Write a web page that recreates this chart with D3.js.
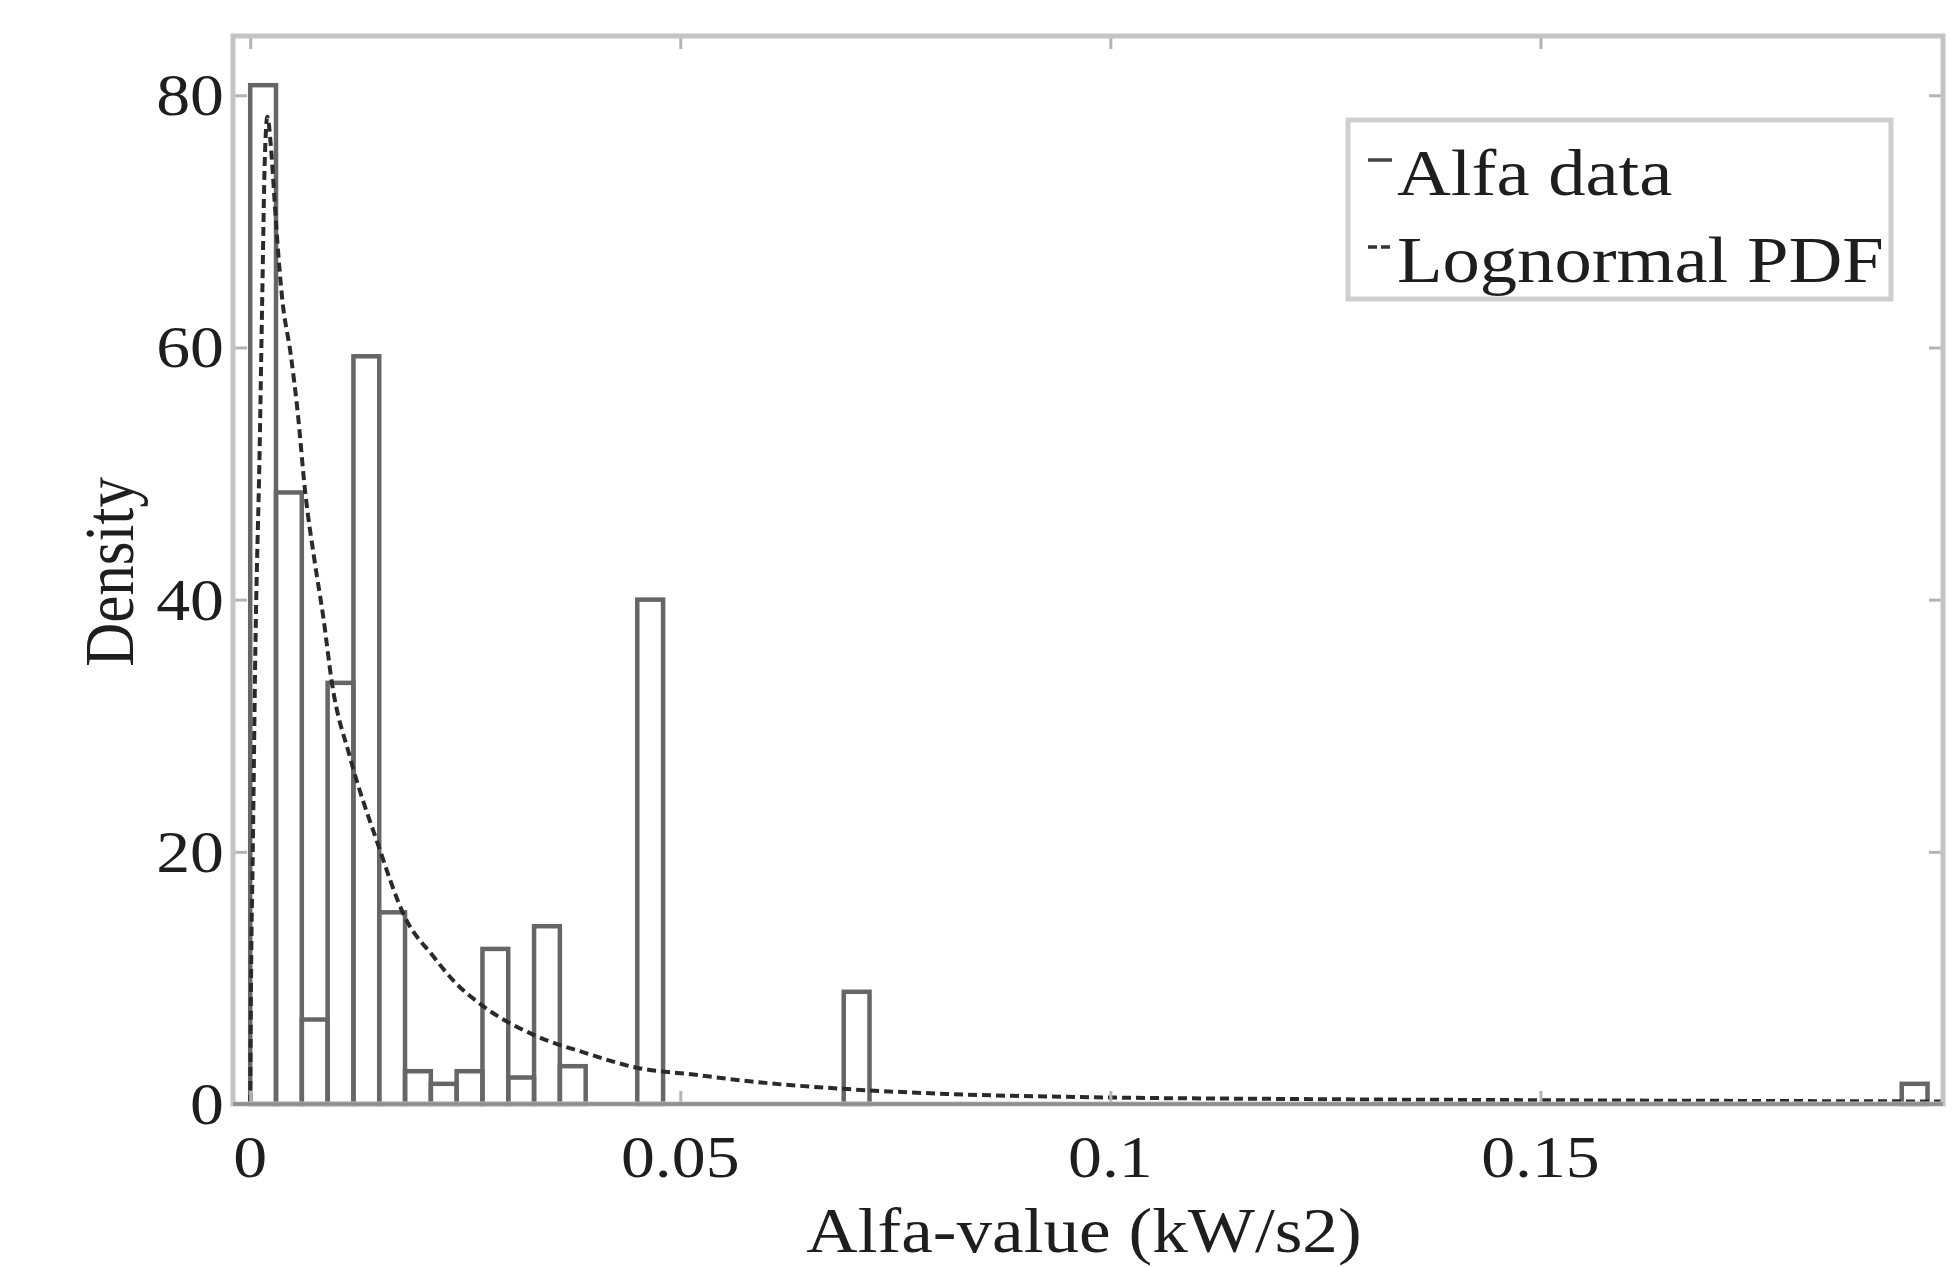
<!DOCTYPE html>
<html>
<head>
<meta charset="utf-8">
<script src="https://cdnjs.cloudflare.com/ajax/libs/d3/7.8.5/d3.min.js"></script>
<style>
  body { margin: 0; background: #fff; }
  text { font-family: "Liberation Serif", "Times New Roman", serif; fill: #1e1e1e; }
</style>
</head>
<body>
<div id="chart"></div>
<script>
// histogram of alfa-values, bins of 0.003 starting at 0
var binWidth = 0.003;
var density = [80.8, 48.5, 6.7, 33.4, 59.3, 15.2, 2.6, 1.6, 2.6, 12.3, 2.1, 14.1, 3.0, 0, 0,
    40.0, 0, 0, 0, 0, 0, 0, 0, 8.9,
    0, 0, 0, 0, 0, 0, 0, 0, 0, 0, 0, 0, 0, 0, 0, 0, 0, 0, 0, 0,
    0, 0, 0, 0, 0, 0, 0, 0, 0, 0, 0, 0, 0, 0, 0, 0, 0, 0, 0, 0,
    1.6];

// fitted lognormal pdf
var pdfX = [0, 0.0001, 0.0003, 0.0006, 0.0011, 0.0014, 0.0017, 0.0020, 0.0024, 0.0028, 0.0032,
    0.0037, 0.0047, 0.0055, 0.0064, 0.0075, 0.0085, 0.0095, 0.0116, 0.0148, 0.018, 0.0213,
    0.0236, 0.027, 0.0329, 0.0392, 0.0448, 0.052, 0.058, 0.069, 0.081, 0.0965, 0.12, 0.15, 0.1968];
var pdfY = [0, 10, 20, 36, 52, 64, 75, 78.3, 76, 72, 68,
    64, 59.5, 55, 48.5, 43, 38.6, 33.4, 27.5, 20.7, 14.8, 11.7,
    9.8, 7.8, 5.5, 4.0, 2.9, 2.3, 1.8, 1.2, 0.8, 0.55, 0.4, 0.3, 0.2];

var xTicks = [0, 0.05, 0.1, 0.15];
var xTickLabels = ["0", "0.05", "0.1", "0.15"];
var yTicks = [0, 20, 40, 60, 80];
var legendLabels = ["Alfa data", "Lognormal PDF"];

function drawChart() {
    var W = 1953, H = 1267;
    var mLeft = 233, mRight = 1943, mTop = 36, mBottom = 1104;
    var stretch = 1.13; // the source figure is widened a bit

    var svg = d3.select("#chart").append("svg")
        .attr("width", W)
        .attr("height", H);

    var x = d3.scaleLinear().domain([-0.002, 0.1968]).range([mLeft, mRight]);
    var y = d3.scaleLinear().domain([0, 84.7]).range([mBottom, mTop]);

    // bars
    svg.append("g").selectAll("rect")
        .data(density)
        .join("rect")
        .attr("x", (d, i) => x(i * binWidth))
        .attr("width", (d, i) => x((i + 1) * binWidth) - x(i * binWidth))
        .attr("y", d => y(d))
        .attr("height", d => y(0) - y(d))
        .attr("fill", "none")
        .attr("stroke", "#666")
        .attr("stroke-width", 4.5);

    // lognormal pdf
    var line = d3.line()
        .x(d => x(d[0]))
        .y(d => y(d[1]))
        .curve(d3.curveMonotoneX);

    svg.append("path")
        .datum(d3.zip(pdfX, pdfY))
        .attr("d", line)
        .attr("fill", "none")
        .attr("stroke", "#2a2a2a")
        .attr("stroke-width", 4)
        .attr("stroke-dasharray", "9,5");

    // frame + inward ticks
    function tickAxis(axis, tr) {
        var g = svg.append("g").attr("transform", tr).call(axis);
        g.select(".domain").remove();
        g.selectAll("line").attr("stroke", "#b4b4b4").attr("stroke-width", 3);
    }
    tickAxis(d3.axisBottom(x).tickValues(xTicks).tickSize(-13).tickFormat(""), "translate(0," + mBottom + ")");
    tickAxis(d3.axisTop(x).tickValues(xTicks).tickSize(-13).tickFormat(""), "translate(0," + mTop + ")");
    tickAxis(d3.axisLeft(y).tickValues(yTicks).tickSize(-14).tickFormat(""), "translate(" + mLeft + ",0)");
    tickAxis(d3.axisRight(y).tickValues(yTicks).tickSize(-14).tickFormat(""), "translate(" + mRight + ",0)");

    svg.append("rect")
        .attr("x", mLeft).attr("y", mTop)
        .attr("width", mRight - mLeft).attr("height", mBottom - mTop)
        .attr("fill", "none")
        .attr("stroke", "#c4c4c4")
        .attr("stroke-width", 5);

    svg.append("line")
        .attr("x1", mLeft).attr("x2", mRight)
        .attr("y1", mBottom).attr("y2", mBottom)
        .attr("stroke", "#8e8e8e")
        .attr("stroke-width", 3.5);

    // tick labels
    svg.append("g").selectAll("text")
        .data(xTicks)
        .join("text")
        .attr("transform", d => "translate(" + x(d) + ",1177) scale(" + stretch + ",1)")
        .attr("text-anchor", "middle")
        .style("font-size", "60px")
        .text((d, i) => xTickLabels[i]);

    svg.append("g").selectAll("text")
        .data(yTicks)
        .join("text")
        .attr("transform", d => "translate(224," + (y(d) + 20) + ") scale(" + stretch + ",1)")
        .attr("text-anchor", "end")
        .style("font-size", "60px")
        .text(d => d);

    // axis titles
    svg.append("text")
        .attr("transform", "translate(1084,1252) scale(" + stretch + ",1)")
        .attr("text-anchor", "middle")
        .style("font-size", "63px")
        .text("Alfa-value (kW/s2)");

    svg.append("text")
        .attr("transform", "translate(133,572) scale(" + stretch + ",1) rotate(-90)")
        .attr("text-anchor", "middle")
        .style("font-size", "61px")
        .text("Density");

    // legend
    var lg = svg.append("g");
    lg.append("rect")
        .attr("x", 1348).attr("y", 120)
        .attr("width", 543).attr("height", 179)
        .attr("fill", "#fff")
        .attr("stroke", "#cfcfcf")
        .attr("stroke-width", 5);

    var rows = lg.selectAll("g.row")
        .data(legendLabels)
        .join("g")
        .attr("class", "row")
        .attr("transform", (d, i) => "translate(0," + (i * 87) + ")");

    rows.append("line")
        .attr("x1", 1368).attr("x2", 1392)
        .attr("y1", 160).attr("y2", 160)
        .attr("stroke", (d, i) => i == 0 ? "#444" : "#333")
        .attr("stroke-width", 3.5)
        .attr("stroke-dasharray", (d, i) => i == 0 ? null : "9,4");

    rows.append("text")
        .attr("transform", "translate(1397,195) scale(" + stretch + ",1)")
        .style("font-size", "66px")
        .text(d => d);
}

drawChart();
</script>
</body>
</html>
